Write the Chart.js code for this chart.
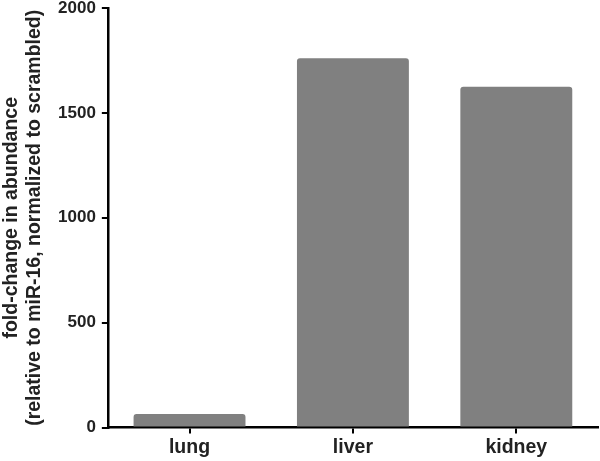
<!DOCTYPE html>
<html>
<head>
<meta charset="utf-8">
<script src="https://cdn.jsdelivr.net/npm/chart.js@4.4.1/dist/chart.umd.min.js"></script>
<style>
  html, body { margin: 0; padding: 0; background: #fff; }
  #wrap { width: 600px; height: 461px; }
</style>
</head>
<body>
<div id="wrap"><canvas id="chart"></canvas></div>
<script>
// -------- Data --------
const categories = ["lung", "liver", "kidney"];
const foldChange = [65, 1760, 1625];
const yTicks = [0, 500, 1000, 1500, 2000];

const FONT = "'Liberation Sans', Arial, Helvetica, sans-serif";

const ctx = document.getElementById("chart").getContext("2d");
new Chart(ctx, {
    type: "bar",
    data: {
        labels: categories,
        datasets: [{
            data: foldChange,
            backgroundColor: "#808080",
            borderRadius: 3,
            borderSkipped: "start",
            categoryPercentage: 1.0,
            barPercentage: 0.685
        }]
    },
    options: {
        responsive: true,
        maintainAspectRatio: false,
        animation: false,
        layout: { padding: { top: 8, right: 2, bottom: 0, left: 0 } },
        plugins: { legend: { display: false }, tooltip: { enabled: false } },
        scales: {
            x: {
                grid: { display: true, drawOnChartArea: false, drawTicks: true, tickLength: 6, offset: false, color: "#000", lineWidth: 2 },
                border: { display: true, color: "#000", width: 2.5 },
                ticks: { color: "#222", font: { family: FONT, size: 19.5, weight: "bold" }, padding: 2 }
            },
            y: {
                min: 0,
                max: 2000,
                afterBuildTicks: scale => { scale.ticks = yTicks.map(v => ({ value: v })); },
                afterFit: scale => { scale.paddingTop = 0; scale.paddingBottom = 0; },
                grid: { display: true, drawOnChartArea: false, drawTicks: true, tickLength: 6, color: "#000", lineWidth: 2 },
                border: { display: true, color: "#000", width: 2.5 },
                ticks: { color: "#222", font: { family: FONT, size: 17, weight: "bold" }, padding: 6, callback: v => String(v) },
                title: {
                    display: true,
                    text: ["fold-change in abundance", "(relative to miR-16, normalized to scrambled)"],
                    color: "#222",
                    font: { family: FONT, size: 19.5, weight: "bold", lineHeight: 1.18 },
                    padding: { top: 0, bottom: 6 }
                }
            }
        }
    }
});
</script>
</body>
</html>
